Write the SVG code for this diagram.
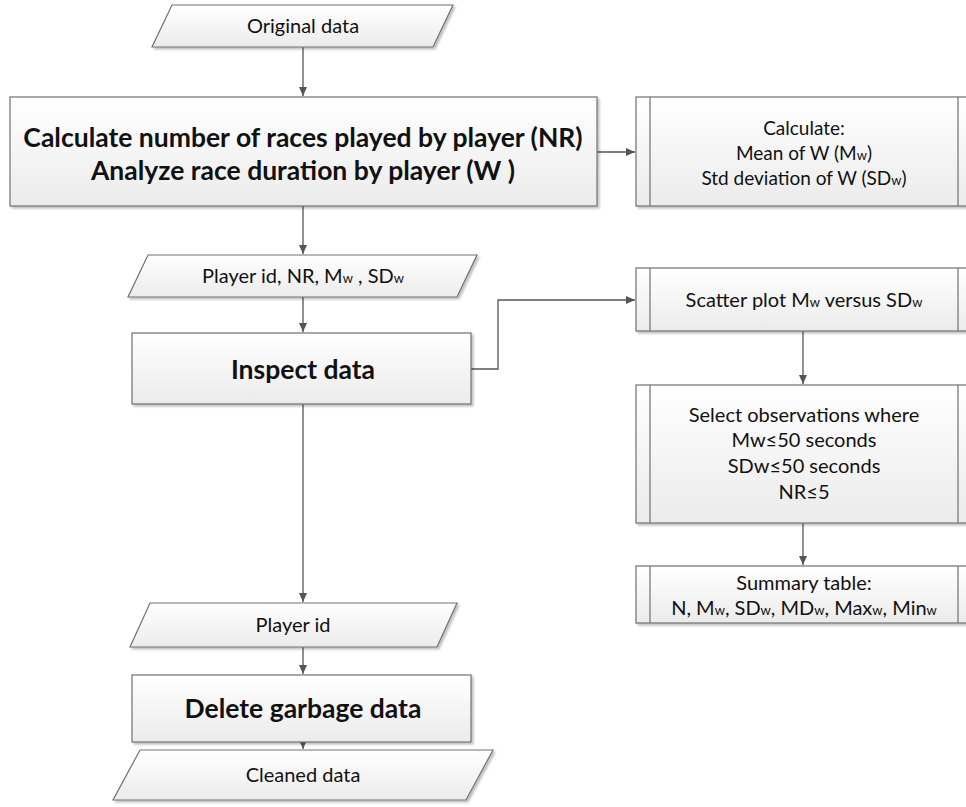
<svg xmlns="http://www.w3.org/2000/svg" width="966" height="807" viewBox="0 0 966 807">
<defs>
<linearGradient id="g" x1="0" y1="0" x2="0" y2="1">
<stop offset="0" stop-color="#ffffff"/>
<stop offset="1" stop-color="#ebebeb"/>
</linearGradient>
<filter id="sh" x="-5%" y="-5%" width="110%" height="120%">
<feDropShadow dx="2" dy="2" stdDeviation="1.2" flood-color="#000" flood-opacity="0.25"/>
</filter>
<marker id="ar" markerWidth="10" markerHeight="10" refX="9" refY="5" orient="auto" markerUnits="userSpaceOnUse">
<path d="M0,1 L9,5 L0,9 Z" fill="#555"/>
</marker>
</defs>
<style>
.s{fill:url(#g);stroke:#707070;stroke-width:1.2;filter:url(#sh)}
.l{fill:none;stroke:#707070;stroke-width:1.2}
.c{fill:none;stroke:#555;stroke-width:1.3}
text{font-family:"Lato","Liberation Sans",sans-serif;fill:#111;text-anchor:middle}
.t{font-size:20px}
.t2{font-size:19px}
.b{font-size:26.5px;font-weight:bold}
.sub{font-size:13px}
</style>
<g id="connectors">
<path class="c" d="M303,47 V96" marker-end="url(#ar)"/>
<path class="c" d="M597,152 H635" marker-end="url(#ar)"/>
<path class="c" d="M303,206 V254" marker-end="url(#ar)"/>
<path class="c" d="M303,297 V332" marker-end="url(#ar)"/>
<path class="c" d="M471,369 H498 V300 H635" marker-end="url(#ar)"/>
<path class="c" d="M803,331 V384" marker-end="url(#ar)"/>
<path class="c" d="M803,523 V565" marker-end="url(#ar)"/>
<path class="c" d="M303,404 V602" marker-end="url(#ar)"/>
<path class="c" d="M303,647 V674" marker-end="url(#ar)"/>
<path class="c" d="M303,742 V749" marker-end="url(#ar)"/>
</g>
<g id="original-data">
<polygon class="s" points="172,5 453,5 433,47 152,47"/>
<text class="t" x="303" y="33">Original data</text>
</g>
<g id="calculate-nr">
<rect class="s" x="10" y="97" width="587" height="109"/>
<text class="b" x="303" y="147">Calculate number of races played by player (NR)</text>
<text class="b" x="303" y="180">Analyze race duration by player (W )</text>
</g>
<g id="calculate-mean">
<rect class="s" x="636" y="97" width="340" height="109"/>
<path class="l" d="M650,97 V206 M958,97 V206"/>
<text class="t2" x="804" y="135">Calculate:</text>
<text class="t2" x="804" y="160">Mean of W (M<tspan class="sub">w</tspan>)</text>
<text class="t2" x="804" y="185">Std deviation of W (SD<tspan class="sub">w</tspan>)</text>
</g>
<g id="player-stats">
<polygon class="s" points="148,255 477,255 457,297 128,297"/>
<text class="t" x="303" y="283">Player id, NR, M<tspan class="sub">w</tspan> , SD<tspan class="sub">w</tspan></text>
</g>
<g id="inspect-data">
<rect class="s" x="132" y="333" width="339" height="71"/>
<text class="b" x="303" y="379">Inspect data</text>
</g>
<g id="scatter-plot">
<rect class="s" x="636" y="268" width="340" height="63"/>
<path class="l" d="M650,268 V331 M958,268 V331"/>
<text class="t" x="804" y="307">Scatter plot M<tspan class="sub">w</tspan> versus SD<tspan class="sub">w</tspan></text>
</g>
<g id="select-observations">
<rect class="s" x="636" y="385" width="340" height="138"/>
<path class="l" d="M650,385 V523 M958,385 V523"/>
<text class="t" x="804" y="422">Select observations where</text>
<text class="t" x="804" y="447">Mw≤50 seconds</text>
<text class="t" x="804" y="473">SDw≤50 seconds</text>
<text class="t" x="804" y="499">NR≤5</text>
</g>
<g id="summary-table">
<rect class="s" x="636" y="566" width="340" height="57"/>
<path class="l" d="M650,566 V623 M958,566 V623"/>
<text class="t" x="804" y="590">Summary table:</text>
<text class="t" x="804" y="615">N, M<tspan class="sub">w</tspan>, SD<tspan class="sub">w</tspan>, MD<tspan class="sub">w</tspan>, Max<tspan class="sub">w</tspan>, Min<tspan class="sub">w</tspan></text>
</g>
<g id="player-id">
<polygon class="s" points="150,603 457,603 437,647 130,647"/>
<text class="t" x="293" y="632">Player id</text>
</g>
<g id="delete-garbage">
<rect class="s" x="132" y="675" width="339" height="67"/>
<text class="b" x="303" y="718">Delete garbage data</text>
</g>
<g id="cleaned-data">
<polygon class="s" points="140,750 493,750 466,800 113,800"/>
<text class="t" x="303" y="782">Cleaned data</text>
</g>
</svg>
